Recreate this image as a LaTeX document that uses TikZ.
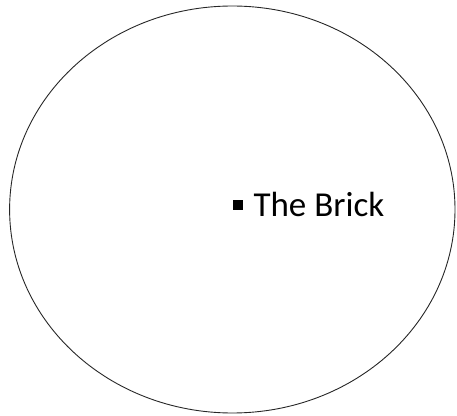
\documentclass[tikz,border=0pt]{standalone}
\usepackage{fontspec}
\setmainfont{Carlito}
\usetikzlibrary{shapes.geometric}
\begin{document}
\begin{tikzpicture}[x=1pt,y=1pt,
  outline/.style={draw=black!85,line width=0.9pt},
  bulletsq/.style={fill=black,minimum size=10.5pt,inner sep=0pt,outer sep=0pt},
  label/.style={inner sep=0pt,outer sep=0pt,anchor=base west,font=\fontsize{35}{42}\selectfont}]
\useasboundingbox (0,0) rectangle (457,415);
\node[outline,ellipse,minimum width=445.4pt,minimum height=407pt,inner sep=0pt] (world) at (232.3,205.5) {};
\node[bulletsq] (bul) at (238,210.1) {};
\node[label] (brick) at (253.5,198.3) {The Brick};
\end{tikzpicture}
\end{document}
